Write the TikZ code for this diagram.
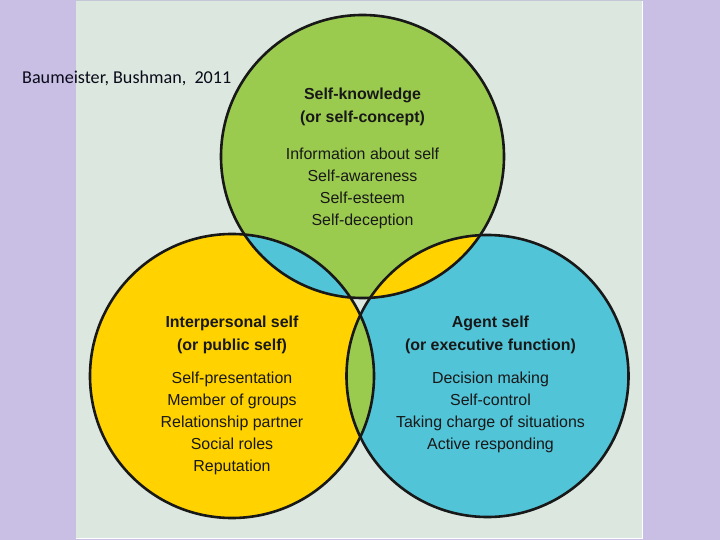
\documentclass[tikz,border=0pt]{standalone}
\usepackage{fontspec}
\setmainfont{Liberation Sans}
\newfontfamily\calib{Carlito}
\definecolor{bgpurple}{RGB}{201,191,228}
\definecolor{panel}{RGB}{220,232,223}
\definecolor{vgreen}{RGB}{155,203,78}
\definecolor{vyellow}{RGB}{255,210,0}
\definecolor{vblue}{RGB}{82,196,216}
\definecolor{ink}{RGB}{24,24,24}
\definecolor{edgegrey}{RGB}{196,198,216}
\begin{document}
\begin{tikzpicture}[x=1bp,y=-1bp,
  head/.style={font=\bfseries\fontsize{16}{19}\selectfont, text=ink, anchor=base, inner sep=0pt},
  item/.style={font=\fontsize{16}{19}\selectfont, text=ink, anchor=base, inner sep=0pt},
  outline/.style={draw=ink, line width=2.6bp}]
\useasboundingbox (0,0) rectangle (720,540);
\fill[bgpurple] (0,0) rectangle (720,540);
\fill[panel] (76,1.5) rectangle (642.5,538);
\draw[edgegrey, line width=1bp] (76,1) -- (642.5,1);
\draw[white, line width=1.2bp] (642.8,1.5) -- (642.8,538.6) -- (76,538.6);
\coordinate (cg) at (362.5,156.5);
\coordinate (cy) at (232,376);
\coordinate (cb) at (487.5,376);
% base fills
\fill[vgreen] (cg) circle[radius=141.5];
\fill[vyellow] (cy) circle[radius=142];
\fill[vblue] (cb) circle[radius=141];
% pairwise overlaps
\begin{scope}
  \clip (cg) circle[radius=141.5];
  \fill[vblue] (cy) circle[radius=142];
  \fill[vyellow] (cb) circle[radius=141];
\end{scope}
\begin{scope}
  \clip (cy) circle[radius=142];
  \fill[vgreen] (cb) circle[radius=141];
\end{scope}
% triple overlap
\begin{scope}
  \clip (cg) circle[radius=141.5];
  \clip (cy) circle[radius=142];
  \fill[panel] (cb) circle[radius=141];
\end{scope}
% outlines
\draw[outline] (cg) circle[radius=141.5];
\draw[outline] (cy) circle[radius=142];
\draw[outline] (cb) circle[radius=141];
% green texts
\node[head] (gt1) at (362.5,100) {Self-knowledge};
\node[head] (gt2) at (362.5,122.5) {(or self-concept)};
\foreach \t [count=\i] in {Information about self,Self-awareness,Self-esteem,Self-deception}
  \node[item] (gi\i) at (362.5,160+22*\i-22) {\t};
% yellow texts
\node[head] (yt1) at (232,327.3) {Interpersonal self};
\node[head] (yt2) at (232,350) {(or public self)};
\foreach \t [count=\i] in {Self-presentation,Member of groups,Relationship partner,Social roles,Reputation}
  \node[item] (yi\i) at (232,383.3+22*\i-22) {\t};
% blue texts
\node[head] (bt1) at (490.5,327.3) {Agent self};
\node[head] (bt2) at (490.5,350) {(or executive function)};
\foreach \t [count=\i] in {Decision making,Self-control,Taking charge of situations,Active responding}
  \node[item] (bi\i) at (490.5,383.3+22*\i-22) {\t};
% citation
\node[font=\calib\fontsize{18.2}{22}\selectfont, text={rgb,255:red,10;green,10;blue,25}, anchor=base west, inner sep=0pt] (cite) at (22,83.3) {Baumeister, Bushman,~~2011};
\end{tikzpicture}
\end{document}
